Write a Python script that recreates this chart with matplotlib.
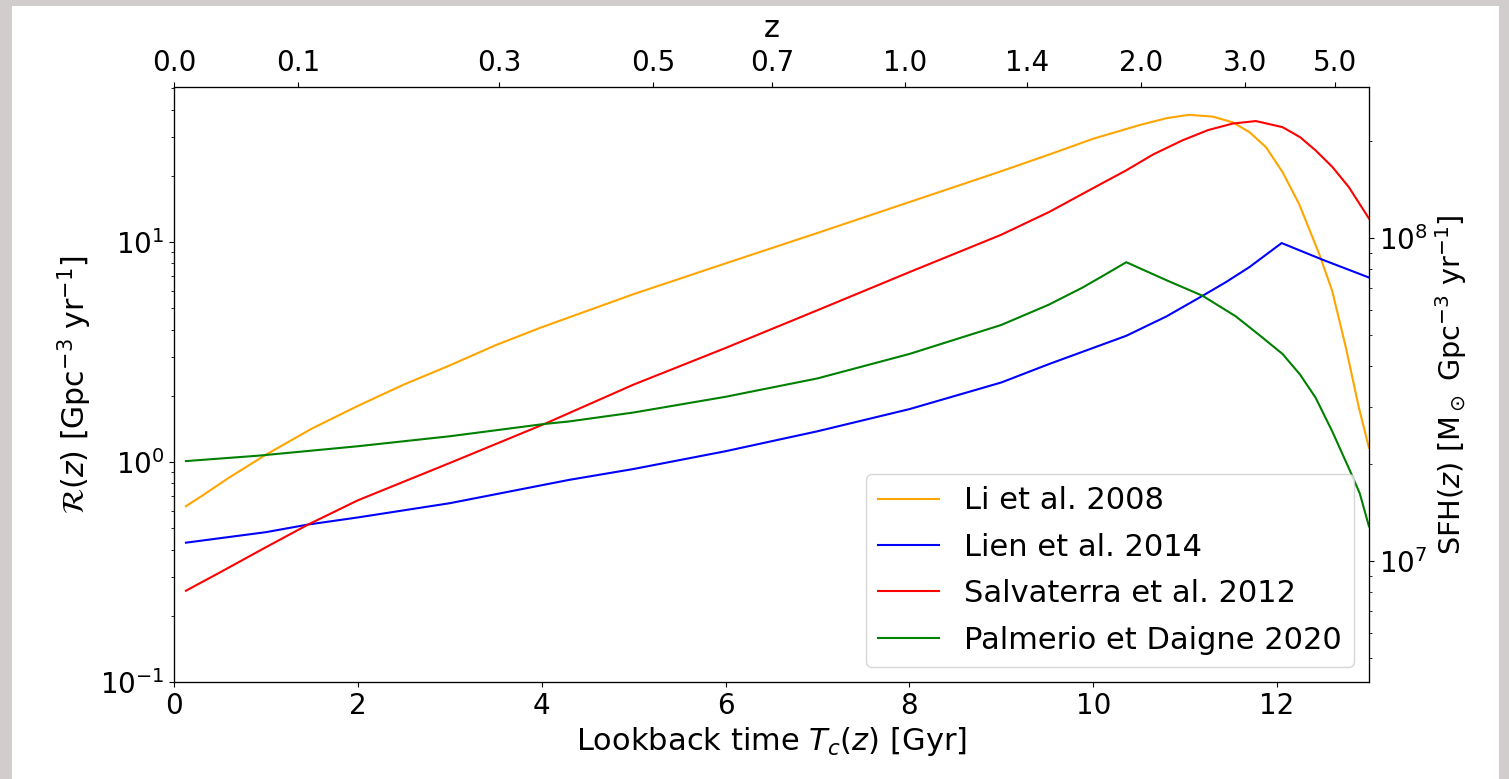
import numpy as np
import matplotlib
matplotlib.use("Agg")
import matplotlib.pyplot as plt
from matplotlib.patches import Rectangle

# lookback time [Gyr] and rate R(z) [Gpc^-3 yr^-1]
t_li = [0.13, 0.3, 0.6, 1.0, 1.5, 2.0, 2.5, 3.0, 3.5, 4.0, 5.0, 6.0, 7.0, 8.0, 9.0, 9.52,
        10.0, 10.5, 10.8, 11.04, 11.3, 11.52, 11.7, 11.88, 12.06, 12.24, 12.46, 12.6,
        12.75, 12.89, 13.0]
r_li = [0.63, 0.70, 0.85, 1.08, 1.42, 1.80, 2.25, 2.75, 3.4, 4.1, 5.8, 8.0, 11.0, 15.2,
        21.0, 25.0, 29.5, 34.0, 36.6, 37.9, 37.2, 35.0, 31.6, 27.0, 20.8, 14.9, 8.8, 6.0,
        3.3, 1.77, 1.16]

t_lien = [0.13, 1.0, 1.46, 2.0, 3.0, 4.3, 5.0, 6.0, 7.0, 8.0, 9.0, 9.52, 10.36, 10.8,
          11.19, 11.45, 11.7, 12.05, 12.5, 13.0]
r_lien = [0.43, 0.48, 0.52, 0.56, 0.65, 0.83, 0.93, 1.12, 1.38, 1.74, 2.3, 2.79, 3.75,
          4.6, 5.7, 6.6, 7.7, 9.9, 8.3, 6.9]

t_sal = [0.13, 0.5, 1.0, 1.46, 2.0, 3.0, 4.03, 5.0, 6.0, 7.0, 8.0, 9.0, 9.52, 10.0,
         10.36, 10.65, 10.97, 11.25, 11.52, 11.77, 12.06, 12.25, 12.42, 12.6, 12.78, 13.0]
r_sal = [0.26, 0.315, 0.41, 0.52, 0.67, 0.99, 1.49, 2.25, 3.3, 4.9, 7.3, 10.8, 13.7, 17.6,
         21.2, 25.0, 29.0, 32.3, 34.6, 35.5, 33.3, 30.0, 26.1, 22.0, 17.8, 12.8]

t_pd = [0.13, 0.93, 2.0, 3.0, 4.03, 4.3, 5.0, 6.0, 7.0, 8.0, 9.0, 9.52, 9.88, 10.1,
        10.36, 10.8, 11.19, 11.55, 11.8, 12.06, 12.25, 12.42, 12.6, 12.78, 12.9, 13.0]
r_pd = [1.01, 1.07, 1.18, 1.31, 1.49, 1.53, 1.68, 1.98, 2.4, 3.1, 4.2, 5.2, 6.2, 7.0,
        8.1, 6.7, 5.7, 4.6, 3.8, 3.1, 2.5, 1.96, 1.38, 0.94, 0.72, 0.51]

z_ticks = [0.0, 0.1, 0.3, 0.5, 0.7, 1.0, 1.4, 2.0, 3.0, 5.0]

# flat LCDM (Planck 2018) lookback time
H0, Om = 67.4, 0.315
t_hubble = 977.79 / H0


def lookback_time(z):
    zz = np.linspace(0, z, 2001)
    f = 1.0 / ((1 + zz) * np.sqrt(Om * (1 + zz) ** 3 + 1 - Om))
    return t_hubble * np.trapezoid(f, zz)


fig = plt.figure(figsize=(15.09, 7.79), dpi=100, facecolor="#d1cdcc")
fig.patches.append(Rectangle((12 / 1509, 0), 1487 / 1509, 1 - 6 / 779,
                             transform=fig.transFigure, facecolor="white",
                             edgecolor="none", zorder=-10))

ax = fig.add_axes([0.1153, 0.1245, 0.9072 - 0.1153, 0.8883 - 0.1245])

ax.plot(t_li, r_li, color="orange", lw=1.5, label="Li et al. 2008")
ax.plot(t_lien, r_lien, color="blue", lw=1.5, label="Lien et al. 2014")
ax.plot(t_sal, r_sal, color="red", lw=1.5, label="Salvaterra et al. 2012")
ax.plot(t_pd, r_pd, color="green", lw=1.5, label="Palmerio et Daigne 2020")

ax.set_yscale("log")
ax.set_xlim(0, 13)
ax.set_ylim(0.1, 50.7)
ax.tick_params(labelsize=20)
ax.set_xlabel(r"Lookback time $T_c(z)$ [Gyr]", fontsize=22)
ax.set_ylabel(r"$\mathcal{R}(z)$ [Gpc$^{-3}$ yr$^{-1}$]", fontsize=21.5)
ax.legend(loc="lower right", fontsize=22, labelspacing=0.57)

# right axis: star formation history
ax_r = ax.twinx()
ax_r.set_yscale("log")
ax_r.set_ylim(4.22e6, 2.93e8)
ax_r.tick_params(labelsize=20)
ax_r.set_ylabel(r"SFH($z$) [M$_\odot$ Gpc$^{-3}$ yr$^{-1}$]", fontsize=20.7)

# top axis: redshift
ax_t = ax.twiny()
ax_t.set_xlim(ax.get_xlim())
ax_t.set_xticks([lookback_time(z) for z in z_ticks])
ax_t.set_xticklabels([f"{z:.1f}" for z in z_ticks])
ax_t.tick_params(labelsize=20)
ax_t.set_xlabel("z", fontsize=22, labelpad=9)

fig.savefig("out.png", dpi=100, facecolor=fig.get_facecolor())
